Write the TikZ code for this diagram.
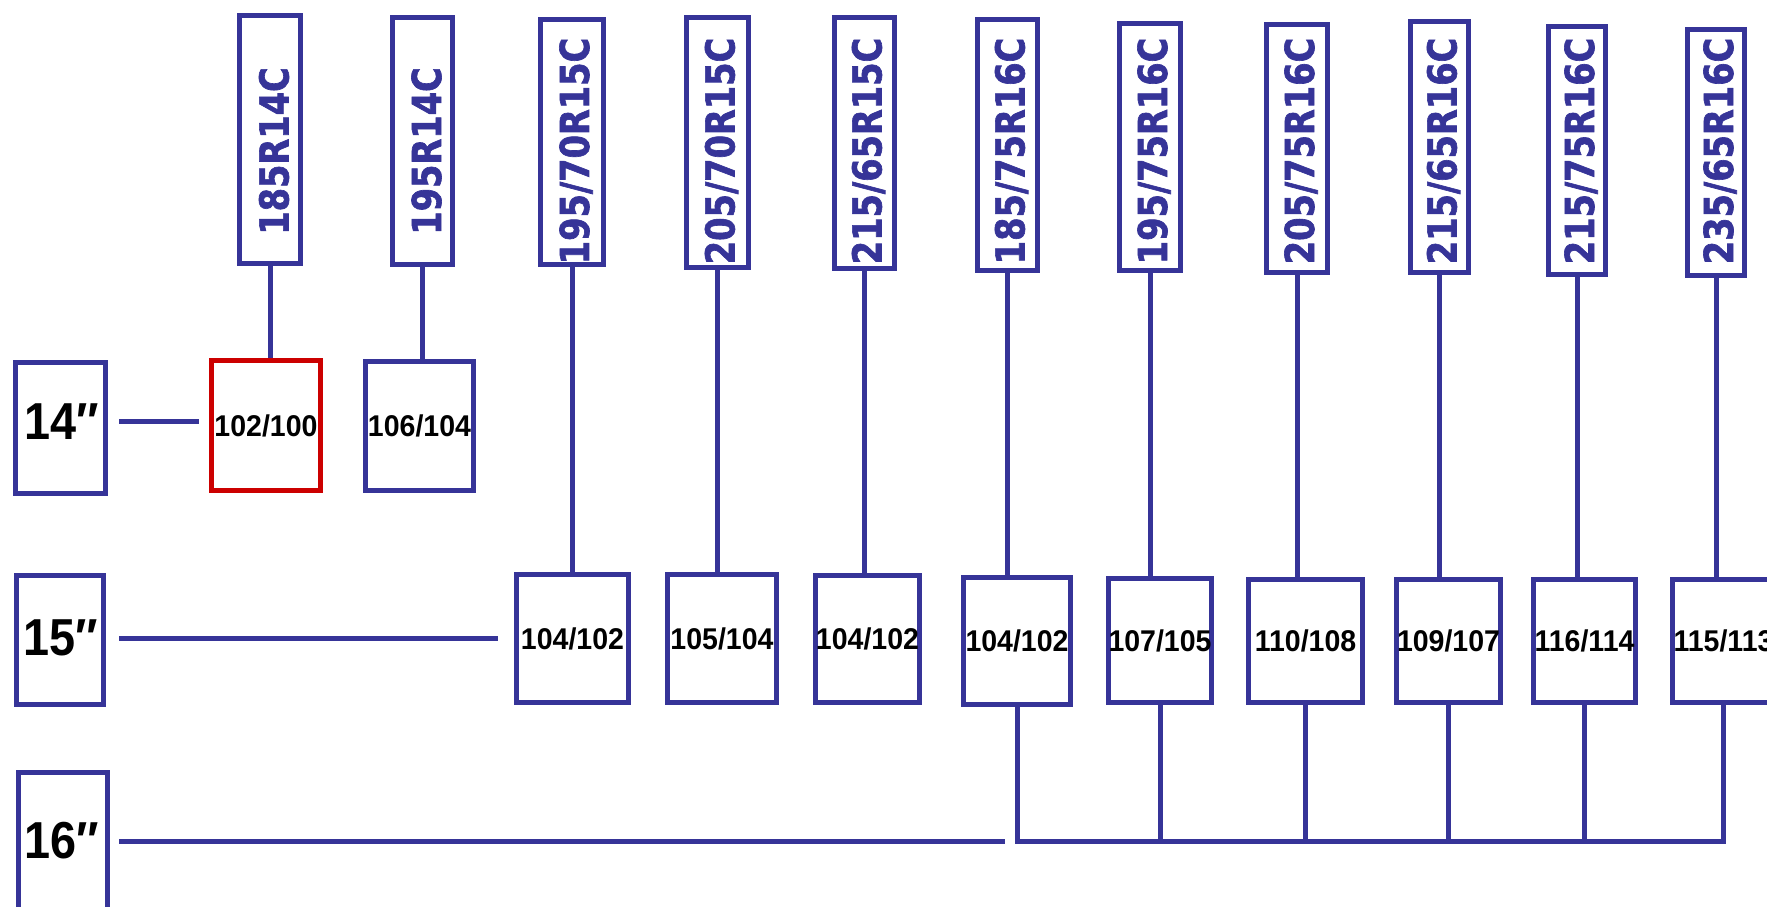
\documentclass[tikz,border=0pt]{standalone}
\usepackage{fontspec}
\usetikzlibrary{calc}
\newfontfamily\tyrefont{DejaVu Sans}[FakeStretch=0.84,FakeBold=1.6]
\newfontfamily\numfont{Liberation Sans}[FakeStretch=0.95]
\newfontfamily\rowfont{Liberation Sans}[FakeStretch=0.9]
\definecolor{tblue}{RGB}{54,52,152}
\definecolor{tred}{RGB}{204,0,0}
\begin{document}
\begin{tikzpicture}[x=1pt,y=-1pt,
  bx/.style 2 args={draw=tblue, line width=5pt, inner sep=0pt, minimum width=#1pt, minimum height=#2pt},
  numtxt/.style={font=\numfont\bfseries\fontsize{30}{30}\selectfont, text=black},
  rowlbl/.style={font=\rowfont\bfseries\fontsize{52}{52}\selectfont, text=black, inner sep=0pt},
  toplbl/.style={rotate=90, text=tblue, font=\tyrefont\bfseries\fontsize{40}{40}\selectfont, inner sep=0pt},
  conn/.style={draw=tblue, line width=5pt}]
\useasboundingbox (0,0) rectangle (1767,907);
\clip (0,0) rectangle (1767,907);
\coordinate (ty) at (0,151);
\coordinate (bus) at (0,841);

% rim size boxes
\node[bx={90}{131}] (r14) at (60.5,428) {};
\node[bx={87}{129}] (r15) at (60,640) {};
\node[bx={89}{139}] (r16) at (63,841.5) {};
\node[rowlbl] (l14) at (62,421.5) {14″};
\node[rowlbl] (l15) at (61,638) {15″};
\node[rowlbl] (l16) at (62,840.5) {16″};

% load index boxes
\node[bx={109}{130}, draw=tred, numtxt] (b14a) at (266,425.5) {102/100};
\node[bx={108}{129}, numtxt] (b14b) at (419.5,426) {106/104};
\node[bx={112}{128}, numtxt] (b15a) at (572.5,638.5) {104/102};
\node[bx={109}{128}, numtxt] (b15b) at (722,638.5) {105/104};
\node[bx={102}{127}, numtxt] (b15c) at (867.5,639) {104/102};
\node[bx={107}{127}, numtxt] (b16a) at (1017,641) {104/102};
\node[bx={103}{124}, numtxt] (b16b) at (1160,640.5) {107/105};
\node[bx={114}{123}, numtxt] (b16c) at (1305.5,641) {110/108};
\node[bx={104}{123}, numtxt] (b16d) at (1448.5,641) {109/107};
\node[bx={102}{123}, numtxt] (b16e) at (1584.5,641) {116/114};
\node[bx={102}{123}, numtxt] (b16f) at (1723.5,641) {115/113};

% tyre size boxes
\node[bx={61}{248}] (t1) at (270,139.5) {};
\node[bx={60}{247}] (t2) at (422.5,141) {};
\node[bx={63}{245}] (t3) at (572,142) {};
\node[bx={62}{250}] (t4) at (717.5,142.5) {};
\node[bx={60}{251}] (t5) at (864.5,143) {};
\node[bx={60}{251}] (t6) at (1007.5,145) {};
\node[bx={61}{247}] (t7) at (1150,147) {};
\node[bx={61}{248}] (t8) at (1297,148.5) {};
\node[bx={58}{251}] (t9) at (1439.5,147) {};
\node[bx={57}{248}] (t10) at (1577,150.5) {};
\node[bx={57}{246}] (t11) at (1716,152.5) {};

\node[toplbl] (tl1) at ($(t1.center |- ty)+(4,0)$) {185R14C};
\node[toplbl] (tl2) at ($(t2.center |- ty)+(4,0)$) {195R14C};
\node[toplbl] (tl3) at ($(t3.center |- ty)+(4,0)$) {195/70R15C};
\node[toplbl] (tl4) at ($(t4.center |- ty)+(4,0)$) {205/70R15C};
\node[toplbl] (tl5) at ($(t5.center |- ty)+(4,0)$) {215/65R15C};
\node[toplbl] (tl6) at ($(t6.center |- ty)+(4,0)$) {185/75R16C};
\node[toplbl] (tl7) at ($(t7.center |- ty)+(4,0)$) {195/75R16C};
\node[toplbl] (tl8) at ($(t8.center |- ty)+(4,0)$) {205/75R16C};
\node[toplbl] (tl9) at ($(t9.center |- ty)+(4,0)$) {215/65R16C};
\node[toplbl] (tl10) at ($(t10.center |- ty)+(4,0)$) {215/75R16C};
\node[toplbl] (tl11) at ($(t11.center |- ty)+(4,0)$) {235/65R16C};

% vertical connectors from tyre sizes
\draw[conn] (t1.south) -- (t1.south |- b14a.north);
\draw[conn] (t2.south) -- (t2.south |- b14b.north);
\draw[conn] (t3.south) -- (t3.south |- b15a.north);
\draw[conn] (t4.south) -- (t4.south |- b15b.north);
\draw[conn] (t5.south) -- (t5.south |- b15c.north);
\draw[conn] (t6.south) -- (t6.south |- b16a.north);
\draw[conn] (t7.south) -- (t7.south |- b16b.north);
\draw[conn] (t8.south) -- (t8.south |- b16c.north);
\draw[conn] (t9.south) -- (t9.south |- b16d.north);
\draw[conn] (t10.south) -- (t10.south |- b16e.north);
\draw[conn] (t11.south) -- (t11.south |- b16f.north);

% rim lines
\draw[conn, shorten <=11pt, shorten >=10pt] (r14.east |- l14) -- (b14a.west |- l14);
\draw[conn, shorten <=13pt, shorten >=16pt] (r15.east |- l15) -- (b15a.west |- l15);
\draw[conn, shorten <=9pt, shorten >=12pt] (r16.east |- bus) -- (b16a.south |- bus);

% 16 inch bus
\draw[conn] (b16a.south) -- (b16a.south |- bus) -- (b16f.south |- bus) -- (b16f.south);
\foreach \b in {b16b,b16c,b16d,b16e} \draw[conn] (\b.south) -- (\b.south |- bus);
\end{tikzpicture}
\end{document}
